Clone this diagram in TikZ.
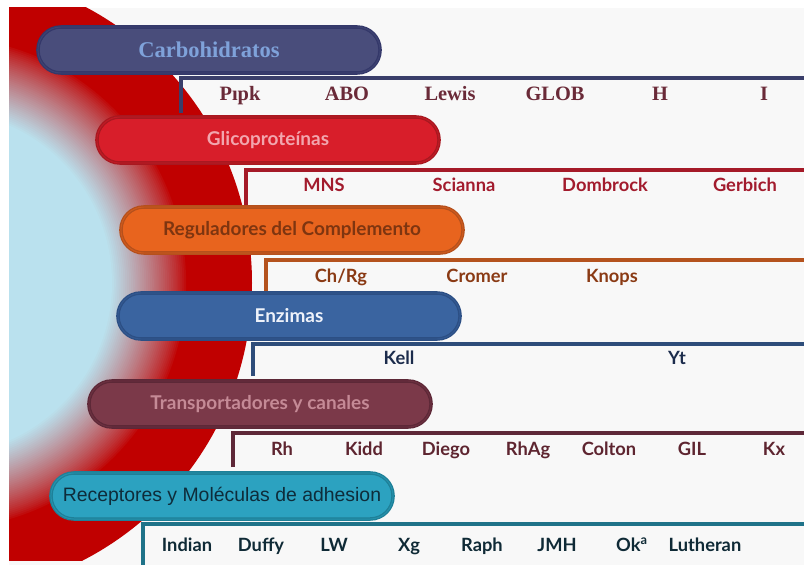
\documentclass[tikz,border=0pt]{standalone}
\usepackage{fontspec}
\setmainfont{Liberation Serif}
\newfontfamily\gothic{Lato}
\newfontfamily\arialfont{Liberation Sans}
\definecolor{cellred}{HTML}{C00000}
\definecolor{cellblue}{HTML}{BAE1EE}
\definecolor{fondo}{HTML}{F8F8F8}
\definecolor{f1}{HTML}{494D7B}\definecolor{b1}{HTML}{34386A}\definecolor{t1}{HTML}{7FA2DA}\definecolor{l1}{HTML}{3A3E6A}\definecolor{e1}{HTML}{6A2A38}
\definecolor{f2}{HTML}{D81E2A}\definecolor{b2}{HTML}{A81820}\definecolor{t2}{HTML}{F2A6AE}\definecolor{l2}{HTML}{A51A28}\definecolor{e2}{HTML}{A21B2D}
\definecolor{f3}{HTML}{E8641E}\definecolor{b3}{HTML}{B5501C}\definecolor{t3}{HTML}{7E3510}\definecolor{l3}{HTML}{B5531E}\definecolor{e3}{HTML}{8A3A14}
\definecolor{f4}{HTML}{3A64A0}\definecolor{b4}{HTML}{2C4F84}\definecolor{t4}{HTML}{EEF2FA}\definecolor{l4}{HTML}{2E4D7A}\definecolor{e4}{HTML}{1C2C4C}
\definecolor{f5}{HTML}{7B3949}\definecolor{b5}{HTML}{5D2837}\definecolor{t5}{HTML}{C58A96}\definecolor{l5}{HTML}{5E2838}\definecolor{e5}{HTML}{5E2530}
\definecolor{f6}{HTML}{2CA2C0}\definecolor{b6}{HTML}{1E8098}\definecolor{t6}{HTML}{0E2C3A}\definecolor{l6}{HTML}{1F7389}\definecolor{e6}{HTML}{0F2A36}
\begin{document}
\begin{tikzpicture}[x=0.025cm,y=-0.025cm,
  grupo/.style 2 args={rectangle,rounded corners=0.57cm,minimum width=8.55cm,minimum height=1.15cm,inner sep=0pt,fill=#1,draw=#2,line width=0.9pt,double=#2!50!#1,double distance=0.7pt},
  rama/.style={draw=#1,line width=2.5pt},
  tipo/.style={text=#1,font=\gothic\bfseries\fontsize{13}{15}\selectfont,text height=0.72em,text depth=0pt},
  tiposerif/.style={text=#1,font=\bfseries\fontsize{14.5}{16}\selectfont,text height=0.66em,text depth=0pt}]
\useasboundingbox (0,0) rectangle (804,565);
\fill[white] (0,0) rectangle (804,565);
\fill[fondo] (9,8) rectangle (804,565);
\begin{scope}
\clip (9,8) rectangle (804,560);
\fill[cellred] (-60,283) circle[radius=312];
\foreach \k [evaluate=\k as \p using 100*(\k/40)^0.8, evaluate=\k as \r using 248-\k*1.9] in {0,...,40}
  \fill[cellblue!\p!cellred] (-60,283) circle[radius=\r];
\end{scope}
\draw[rama=l1] (181,113) |- (805,78);
\draw[rama=l2] (246,205) |- (805,170);
\draw[rama=l3] (266,294) |- (805,260);
\draw[rama=l4] (253,376) |- (805,344);
\draw[rama=l5] (233,467) |- (805,433);
\draw[rama=l6] (143,566) |- (805,524);
\node[grupo={f1}{b1},text=t1,font=\bfseries\fontsize{16}{18}\selectfont] (carb) at (209,50) {Carbohidratos};
\node[grupo={f2}{b2},text=t2,font=\gothic\bfseries\fontsize{13.5}{15}\selectfont] (glic) at (268,140) {Glicoproteínas};
\node[grupo={f3}{b3},text=t3,font=\gothic\bfseries\fontsize{13.5}{15}\selectfont] (reg) at (292,230) {Reguladores del Complemento};
\node[grupo={f4}{b4},text=t4,font=\gothic\bfseries\fontsize{13.5}{15}\selectfont] (enz) at (289,316) {Enzimas};
\node[grupo={f5}{b5},text=t5,font=\gothic\bfseries\fontsize{13.5}{15}\selectfont] (trans) at (260,404) {Transportadores y canales};
\node[grupo={f6}{b6},text=t6,font=\arialfont\fontsize{13.8}{15}\selectfont] (rec) at (222,496) {Receptores y Moléculas de adhesion};
\foreach \t/\x [count=\i] in {Pıpk/240,ABO/347,Lewis/450,GLOB/555,H/660,I/764}
  \node[tiposerif=e1] (a\i) at (\x,96) {\t};
\foreach \t/\x [count=\i] in {MNS/324,Scianna/464,Dombrock/605,Gerbich/745}
  \node[tipo=e2] (b\i) at (\x,186) {\t};
\foreach \t/\x [count=\i] in {{Ch/Rg}/341,Cromer/477,Knops/612}
  \node[tipo=e3] (c\i) at (\x,277) {\t};
\foreach \t/\x [count=\i] in {Kell/399,Yt/677}
  \node[tipo=e4] (d\i) at (\x,359) {\t};
\foreach \t/\x [count=\i] in {Rh/282,Kidd/364,Diego/446,RhAg/528,Colton/609,GIL/692,Kx/774}
  \node[tipo=e5] (e\i) at (\x,450) {\t};
\foreach \t/\x [count=\i] in {Indian/187,Duffy/261,LW/334,Xg/409,Raph/482,JMH/557,{Ok\textsuperscript{a}}/632,Lutheran/705}
  \node[tipo=e6] (g\i) at (\x,546) {\t};
\end{tikzpicture}
\end{document}
